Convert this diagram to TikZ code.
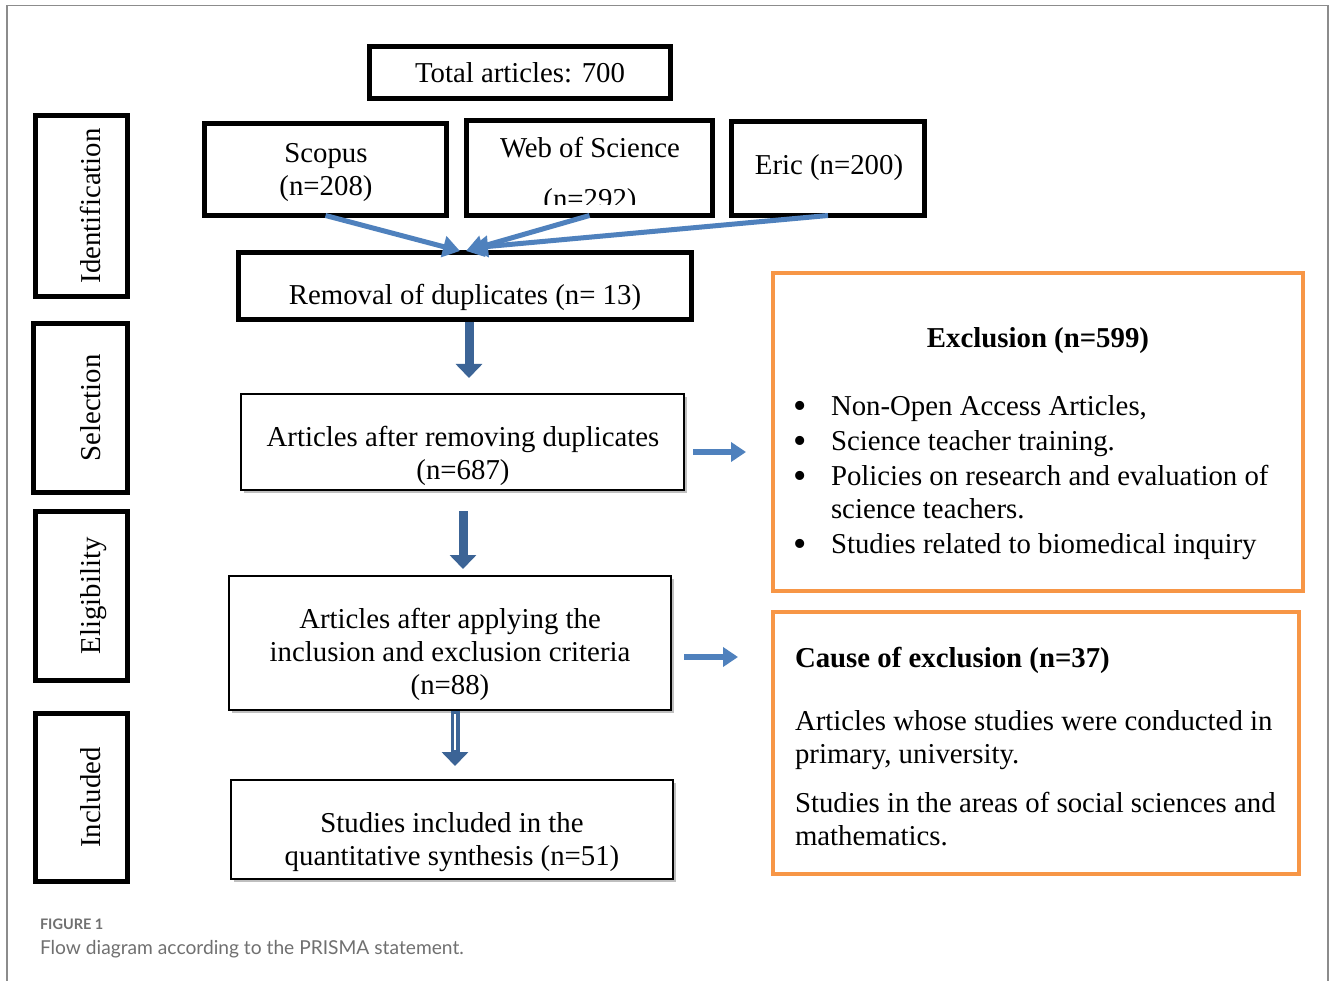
\documentclass[tikz,border=0pt]{standalone}
\usepackage{fontspec}
\setmainfont{Liberation Serif}
\newfontfamily\capfont{Lato}
\usetikzlibrary{arrows.meta,shadows}
\definecolor{ob}{HTML}{F79646}
\definecolor{lb}{HTML}{4F81BD}
\definecolor{db}{HTML}{3C6496}
\definecolor{capgray}{HTML}{707070}
\definecolor{framegray}{HTML}{8C8C8C}
\tikzset{
  every node/.style={inner sep=0pt, outer sep=0pt},
  txt/.style={font=\fontsize{28.8}{33.5}\selectfont, anchor=base},
  txtl/.style={font=\fontsize{28.8}{33.5}\selectfont, anchor=base west},
  bul/.style={font=\fontsize{38}{40}\selectfont, anchor=base},
  thickbox/.style={draw=black, line width=5pt, rectangle},
  midbox/.style={draw=black, line width=2pt, fill=white, rectangle,
    drop shadow={shadow xshift=2.5pt, shadow yshift=-2.5pt, fill=black, opacity=0.25}},
  orbox/.style={draw=ob, line width=4pt, rectangle},
  stagelabel/.style={font=\fontsize{28.8}{33.5}\selectfont, anchor=base, rotate=90},
  bluearrow/.style={draw=lb, line width=5pt, -{Triangle[length=17pt,width=21pt]}},
  bigarrow/.style={draw=db, line width=9pt, -{Triangle[length=14pt,width=26pt]}},
  sidearrow/.style={draw=lb, line width=6pt, -{Triangle[length=15pt,width=19pt]}},
}
\begin{document}
\begin{tikzpicture}[x=1pt,y=-1pt]
\useasboundingbox (0,0) rectangle (1330,981);
\fill[white] (0,0) rectangle (1330,981);
% outer frame
\draw[framegray, line width=1.6pt] (7,981) -- (7,5.5) -- (1328,5.5) -- (1328,981);

% stage boxes
\node[thickbox, minimum width=92pt, minimum height=181pt] (ident) at (81.5,206) {};
\node[thickbox, minimum width=94pt, minimum height=169pt] (sel) at (80.5,408) {};
\node[thickbox, minimum width=92pt, minimum height=169pt] (elig) at (81.5,596) {};
\node[thickbox, minimum width=92pt, minimum height=168pt] (incl) at (81.5,797.5) {};
\node[stagelabel] (identL) at (100,206) {Identification};
\node[stagelabel] (selL) at (100,408) {Selection};
\node[stagelabel] (eligL) at (100,596) {Eligibility};
\node[stagelabel] (inclL) at (100,797.5) {Included};

% identification boxes
\node[thickbox, minimum width=301pt, minimum height=52pt] (total) at (520,72.5) {};
\node[txt] (totalT) at (520,83) {Total articles: 700};
\node[thickbox, minimum width=242pt, minimum height=92pt] (scopus) at (325.5,169.5) {};
\node[txt] (scopusT1) at (326,163) {Scopus};
\node[txt] (scopusT2) at (326,196) {(n=208)};
\node[thickbox, minimum width=246pt, minimum height=95pt] (wos) at (589.5,168) {};
\node[txt] (wosT1) at (590,158) {Web of Science};
\begin{scope}
\clip (470,170) rectangle (710,205);
\node[txt] (wosT2) at (590,209) {(n=292)};
\end{scope}
\node[thickbox, minimum width=193pt, minimum height=94pt] (eric) at (828,168.5) {};
\node[txt] (ericT) at (829,175) {Eric (n=200)};
\node[thickbox, minimum width=453pt, minimum height=67pt] (removal) at (465,286) {};
\node[txt] (removalT) at (465,305) {Removal of duplicates (n= 13)};

% middle boxes
\node[midbox, minimum width=443pt, minimum height=96pt] (art1) at (462.5,442) {};
\node[txt] (art1T1) at (463,446) {Articles after removing duplicates};
\node[txt] (art1T2) at (463,479) {(n=687)};
\node[midbox, minimum width=442pt, minimum height=134pt] (art2) at (450,643) {};
\node[txt] (art2T1) at (450,628) {Articles after applying the};
\node[txt] (art2T2) at (450,661) {inclusion and exclusion criteria};
\node[txt] (art2T3) at (450,694) {(n=88)};
\node[midbox, minimum width=442pt, minimum height=99pt] (studies) at (452,829.5) {};
\node[txt] (studiesT1) at (452,832) {Studies included in the};
\node[txt] (studiesT2) at (452,865) {quantitative synthesis (n=51)};

% orange boxes
\node[orbox, minimum width=530pt, minimum height=318pt] (excl) at (1038,432) {};
\node[txt, font=\fontsize{28.8}{33.5}\selectfont\bfseries] (exclT) at (1038,348) {Exclusion (n=599)};
\node[bul] (b1) at (800,418) {\textbullet};
\node[txtl] (e1) at (831,415) {Non-Open Access Articles,};
\node[bul] (b2) at (800,453) {\textbullet};
\node[txtl] (e2) at (831,450) {Science teacher training.};
\node[bul] (b3) at (800,488) {\textbullet};
\node[txtl] (e3) at (831,485) {Policies on research and evaluation of};
\node[txtl] (e3b) at (831,518) {science teachers.};
\node[bul] (b4) at (800,556) {\textbullet};
\node[txtl] (e4) at (831,553) {Studies related to biomedical inquiry};

\node[orbox, minimum width=526pt, minimum height=262pt] (cause) at (1036,743) {};
\node[txtl, font=\fontsize{28.8}{33.5}\selectfont\bfseries] (causeT) at (795,667) {Cause of exclusion (n=37)};
\node[txtl] (c1) at (795,730) {Articles whose studies were conducted in};
\node[txtl] (c2) at (795,763) {primary, university.};
\node[txtl] (c3) at (795,812) {Studies in the areas of social sciences and};
\node[txtl] (c4) at (795,845) {mathematics.};

% converging arrows
\coordinate (tip1) at (460,251);
\coordinate (tip2) at (466,251);
\coordinate (tip3) at (471,248);
\draw[bluearrow] (scopus.south) -- (tip1);
\draw[bluearrow] (eric.south) -- (tip3);
\draw[bluearrow] (wos.south) -- (tip2);

% down arrows
\coordinate (d1s) at (469,322);
\coordinate (d1e) at (469,378);
\draw[bigarrow] (d1s) -- (d1e);
\coordinate (d2s) at (463,511);
\coordinate (d2e) at (463,569);
\draw[bigarrow] (d2s) -- (d2e);
\coordinate (d3s) at (455,711);
\coordinate (d3e) at (455,766);
\draw[bigarrow] (d3s) -- (d3e);
\coordinate (d3ws) at (455,714);
\coordinate (d3we) at (455,750);
\draw[white, line width=1.2pt] (d3ws) -- (d3we);

% side arrows
\coordinate (s1s) at (693,452);
\coordinate (s1e) at (746,452);
\draw[sidearrow] (s1s) -- (s1e);
\coordinate (s2s) at (684,657);
\coordinate (s2e) at (738,657);
\draw[sidearrow] (s2s) -- (s2e);

% caption
\node[anchor=base west, font=\capfont\bfseries\fontsize{14.5}{17}\selectfont, text=capgray] (figlabel) at (40,929) {FIGURE 1};
\node[anchor=base west, font=\capfont\fontsize{19.2}{23}\selectfont, text=capgray] (figcap) at (40,954) {Flow diagram according to the PRISMA statement.};
\end{tikzpicture}
\end{document}
